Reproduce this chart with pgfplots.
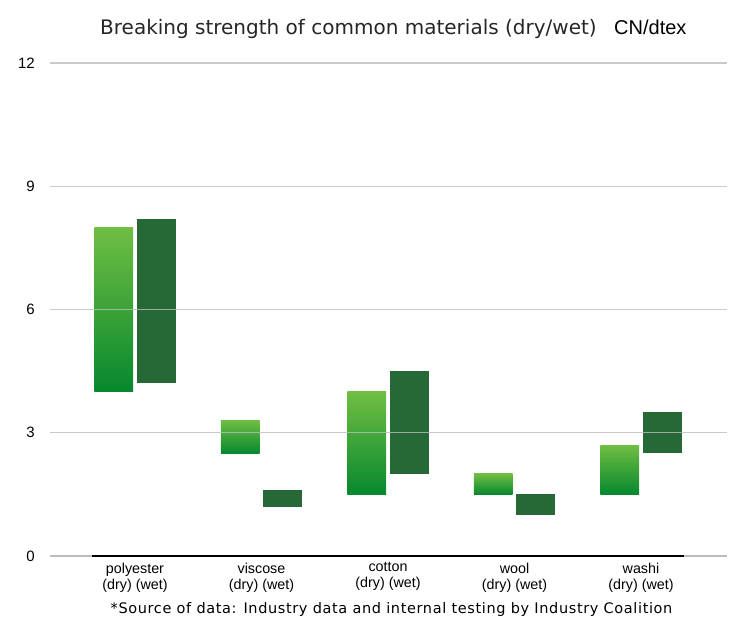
\documentclass[border=0pt]{standalone}
\usepackage{fontspec}
\setmainfont{Liberation Sans}
\newfontfamily\dejavu{DejaVu Sans}
\newfontfamily\dejavuwide[LetterSpace=4.3]{DejaVu Sans}
\usepackage{pgfplots}
\pgfplotsset{compat=1.18}

\definecolor{drytop}{RGB}{112,190,67}
\definecolor{drybot}{RGB}{6,136,46}
\definecolor{wetc}{RGB}{39,104,55}
\definecolor{gridc}{RGB}{188,188,188}

\pgfplotsset{
  base/.style={
    at={(50pt,80pt)}, anchor=south west,
    scale only axis, width=677pt, height=493pt,
    xmin=-0.672, xmax=4.68, ymin=0, ymax=12,
    axis line style={draw=none},
    major tick length=0pt,
    clip=false,
  },
  drybar/.style={draw=none, top color=drytop, bottom color=drybot, shading=axis},
  wetbar/.style={draw=none, fill=wetc},
}

\begin{document}
\begin{tikzpicture}[x=1pt,y=1pt]
\path[use as bounding box] (0,0) rectangle (751,636);

% axis 1: labels and bars (each bar: range from low to high value)
\begin{axis}[base,
  ytick={0,3,6,9,12},
  xtick={0,1,2,3,4},
  xticklabels={{polyester\\(dry) (wet)},{viscose\\(dry) (wet)},{cotton\\(dry) (wet)},{wool\\(dry) (wet)},{washi\\(dry) (wet)}},
  xticklabel style={align=center, anchor=north, inner sep=0pt, yshift=-6.5pt,
    font=\fontsize{14.3}{16}\selectfont},
  yticklabel style={anchor=east, inner sep=0pt, xshift=-15pt,
    font=\fontsize{15}{18}\selectfont},
  /pgf/number format/assume math mode=true,
]
% polyester: dry 4.0-8.0, wet 4.2-8.2
\addplot[drybar] coordinates {(-0.3205,4.0) (-0.0155,4.0) (-0.0155,8.0) (-0.3205,8.0)} -- cycle;
\addplot[wetbar] coordinates {(0.0155,4.2) (0.3205,4.2) (0.3205,8.2) (0.0155,8.2)} -- cycle;
% viscose: dry 2.5-3.3, wet 1.2-1.6
\addplot[drybar] coordinates {(0.6795,2.5) (0.9845,2.5) (0.9845,3.3) (0.6795,3.3)} -- cycle;
\addplot[wetbar] coordinates {(1.0155,1.2) (1.3205,1.2) (1.3205,1.6) (1.0155,1.6)} -- cycle;
% cotton: dry 1.5-4.0, wet 2.0-4.5
\addplot[drybar] coordinates {(1.6795,1.5) (1.9845,1.5) (1.9845,4.0) (1.6795,4.0)} -- cycle;
\addplot[wetbar] coordinates {(2.0155,2.0) (2.3205,2.0) (2.3205,4.5) (2.0155,4.5)} -- cycle;
% wool: dry 1.5-2.0, wet 1.0-1.5
\addplot[drybar] coordinates {(2.6795,1.5) (2.9845,1.5) (2.9845,2.0) (2.6795,2.0)} -- cycle;
\addplot[wetbar] coordinates {(3.0155,1.0) (3.3205,1.0) (3.3205,1.5) (3.0155,1.5)} -- cycle;
% washi: dry 1.5-2.7, wet 2.5-3.5
\addplot[drybar] coordinates {(3.6795,1.5) (3.9845,1.5) (3.9845,2.7) (3.6795,2.7)} -- cycle;
\addplot[wetbar] coordinates {(4.0155,2.5) (4.3205,2.5) (4.3205,3.5) (4.0155,3.5)} -- cycle;
\end{axis}

% axis 2: grid on top of bars, zero line
\begin{axis}[base,
  axis on top,
  ytick={3,6,9,12}, yticklabels={},
  xtick=\empty,
  ymajorgrids,
  grid style={gridc, line width=1.4pt, opacity=0.8},
]
\addplot[sharp plot, gridc, line width=1.4pt] coordinates {(-0.672,0) (4.68,0)};
\addplot[sharp plot, black, line width=2pt] coordinates {(-0.34,0) (4.34,0)};
\end{axis}

\node[anchor=base west, inner sep=0pt, text=black!85] at (100,601.7)
  {\dejavu\fontsize{20}{24}\selectfont Breaking strength of common materials (dry/wet)};
\node[anchor=base west, inner sep=0pt] at (614,601.7)
  {\fontsize{20}{23}\selectfont CN/dtex};
\node[anchor=base, inner sep=0pt] at (391.5,22)
  {\dejavuwide\fontsize{14.5}{17}\selectfont *Source of data: Industry data and internal testing by Industry Coalition};
\end{tikzpicture}
\end{document}
